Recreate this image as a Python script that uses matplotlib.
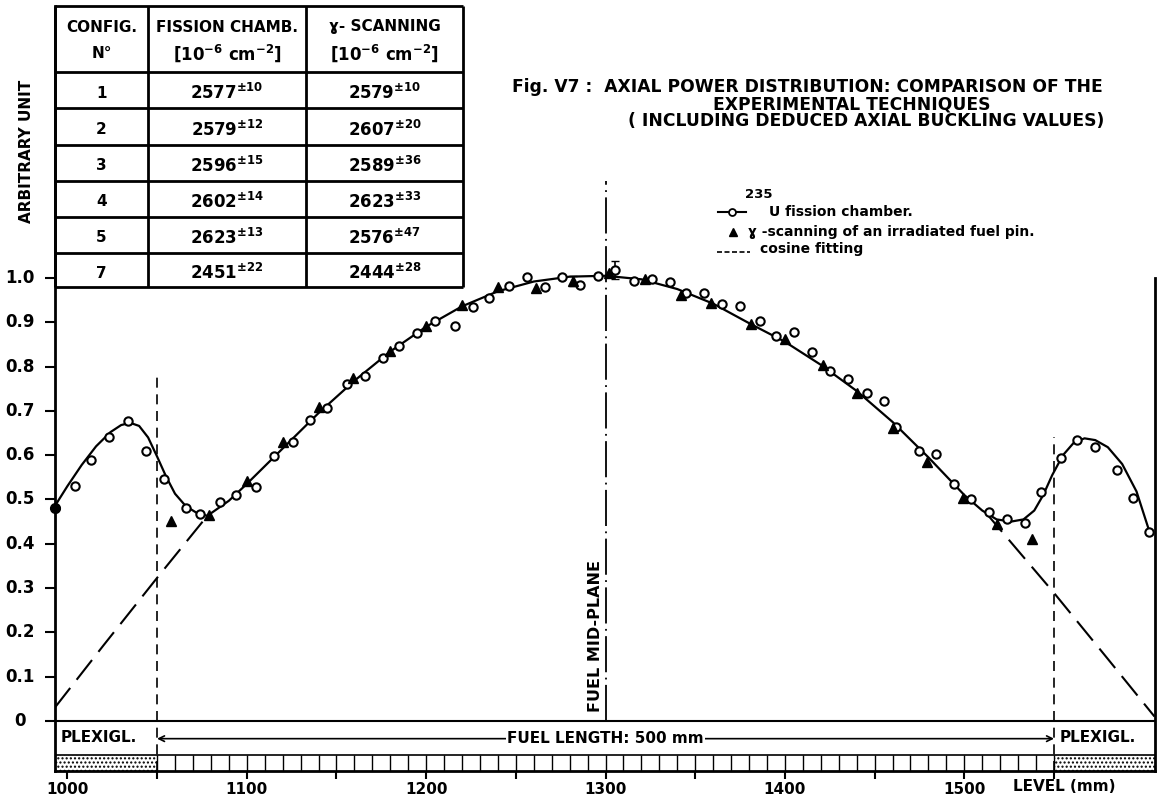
import numpy as np
import matplotlib.pyplot as plt
from matplotlib.patches import Rectangle
from matplotlib.transforms import offset_copy

plt.rcParams['font.family'] = ['DejaVu Sans']
plt.rcParams['font.weight'] = 'bold'
plt.rcParams['hatch.linewidth'] = 1.0

# 235U fission chamber readings (level mm, arbitrary unit)
fc_x = [993, 1004, 1013, 1023, 1034, 1044, 1054, 1066, 1074, 1085, 1094, 1105,
        1115, 1126, 1135, 1145, 1156, 1166, 1176, 1185, 1195, 1205, 1216, 1226,
        1235, 1246, 1256, 1266, 1276, 1286, 1296, 1305, 1316, 1326, 1336, 1345,
        1355, 1365, 1375, 1386, 1395, 1405, 1415, 1425, 1435, 1446, 1455, 1462,
        1475, 1484, 1494, 1504, 1514, 1524, 1534, 1543, 1554, 1563, 1573, 1585,
        1594, 1603]
fc_y = [0.481, 0.530, 0.589, 0.641, 0.677, 0.609, 0.546, 0.481, 0.467, 0.494, 0.510, 0.528,
        0.598, 0.630, 0.679, 0.706, 0.761, 0.779, 0.819, 0.846, 0.875, 0.902, 0.892, 0.935,
        0.955, 0.982, 1.002, 0.980, 1.002, 0.984, 1.005, 1.018, 0.993, 0.998, 0.991, 0.966,
        0.966, 0.941, 0.937, 0.903, 0.869, 0.878, 0.833, 0.790, 0.772, 0.740, 0.722, 0.664,
        0.609, 0.602, 0.535, 0.501, 0.472, 0.456, 0.447, 0.517, 0.593, 0.634, 0.619, 0.567,
        0.503, 0.427]

# gamma-scanning of an irradiated fuel pin
gs_x = [1058, 1079, 1100, 1120, 1140, 1159, 1180, 1200, 1220, 1240, 1261, 1282, 1302,
        1322, 1342, 1359, 1381, 1400, 1421, 1440, 1460, 1479, 1499, 1518, 1538]
gs_y = [0.451, 0.465, 0.541, 0.630, 0.709, 0.774, 0.835, 0.892, 0.939, 0.980, 0.977, 0.993, 1.011,
        0.998, 0.962, 0.943, 0.896, 0.862, 0.804, 0.740, 0.661, 0.585, 0.503, 0.445, 0.411]

# hand drawn fit through the points
fit_x = [993, 1000, 1008, 1016, 1024, 1030, 1035, 1040, 1045, 1050, 1055, 1060, 1066, 1072,
         1078, 1090, 1100, 1120, 1140, 1160, 1180, 1200, 1220, 1240, 1260, 1280, 1300, 1320,
         1340, 1360, 1380, 1400, 1420, 1440, 1460, 1480, 1500, 1510, 1518, 1526, 1533, 1539,
         1544, 1549, 1555, 1561, 1567, 1573, 1580, 1588, 1596, 1603]
fit_y = [0.485, 0.530, 0.578, 0.620, 0.652, 0.668, 0.673, 0.666, 0.640, 0.597, 0.552, 0.513,
         0.485, 0.470, 0.463, 0.497, 0.535, 0.615, 0.695, 0.768, 0.834, 0.890, 0.936, 0.970,
         0.992, 1.003, 1.005, 0.997, 0.975, 0.942, 0.898, 0.856, 0.804, 0.745, 0.675, 0.595,
         0.510, 0.475, 0.455, 0.450, 0.455, 0.475, 0.510, 0.555, 0.600, 0.628, 0.638, 0.634,
         0.618, 0.580, 0.518, 0.430]

# cosine fitting, parts outside the measured curve
cos_l_x = [993, 1020, 1050, 1078]
cos_l_y = [0.03, 0.17, 0.323, 0.463]
cos_r_x = [1512, 1550, 1580, 1606]
cos_r_y = [0.47, 0.289, 0.14, 0.01]

# table of deduced axial buckling
configs = ['1', '2', '3', '4', '5', '7']
fc_b = [2577, 2579, 2596, 2602, 2623, 2451]
fc_err = [10, 12, 15, 14, 13, 22]
gs_b = [2579, 2607, 2589, 2623, 2576, 2444]
gs_err = [10, 20, 36, 33, 47, 28]

yticks = [0, 0.1, 0.2, 0.3, 0.4, 0.5, 0.6, 0.7, 0.8, 0.9, 1.0]
xticks = [1000, 1100, 1200, 1300, 1400, 1500]

fig = plt.figure(figsize=(11.61, 7.98), dpi=100)
ax = fig.add_axes([55/1161, 27/798, 1100/1161, 765/798])
ax.set_xlim(993.1, 1606.3)
ax.set_ylim(-0.113, 1.614)

for s in ['left', 'bottom', 'right']:
    ax.spines[s].set_linewidth(2)
ax.spines['top'].set_visible(False)
ax.spines['right'].set_bounds(-0.113, 1.0)

ax.set_yticks(yticks)
ax.set_yticklabels([])
ax.tick_params(axis='y', length=7, width=1.5, direction='out')
for v in yticks:
    ax.text(-0.032, v, '0' if v == 0 else f'{v:.1f}', transform=ax.get_yaxis_transform(),
            ha='center', va='center', fontsize=12, fontweight='bold')

ax.set_xticks(xticks)
ax.set_xticklabels([str(t) for t in xticks], fontsize=11, fontweight='bold')
ax.set_xticks([1050, 1150, 1250, 1350, 1450, 1550], minor=True)
ax.tick_params(axis='x', which='both', length=6, width=1.5, pad=2)
lvl_tr = offset_copy(ax.get_xaxis_transform(), fig=fig, y=-8, units='dots')
ax.text(1527, 0, 'LEVEL (mm)', transform=lvl_tr, ha='left', va='top',
        fontsize=11, fontweight='bold')

# strip below the plot: plexiglass / fuel cells
ax.axhline(0, color='black', lw=1.5)
ax.axhline(-0.077, color='black', lw=1.2)
ax.vlines(np.arange(1050, 1551, 10), -0.113, -0.077, color='black', lw=1)
ax.add_patch(Rectangle((993.1, -0.113), 1050 - 993.1, 0.036, hatch='....', fill=False,
                       ec='black', lw=0))
ax.add_patch(Rectangle((1550, -0.113), 1606.3 - 1550, 0.036, hatch='....', fill=False,
                       ec='black', lw=0))
ax.text(996, -0.038, 'PLEXIGL.', ha='left', va='center', fontsize=11, fontweight='bold')
ax.text(1553, -0.038, 'PLEXIGL.', ha='left', va='center', fontsize=11, fontweight='bold')
ax.annotate('', xy=(1050, -0.04), xytext=(1550, -0.04),
            arrowprops=dict(arrowstyle='<->', lw=1.2, shrinkA=0, shrinkB=0, color='black'))
ax.text(1300, -0.04, 'FUEL LENGTH: 500 mm', ha='center', va='center', fontsize=11,
        fontweight='bold', bbox=dict(fc='white', ec='none', pad=1))

# fuel boundaries and mid-plane
ax.plot([1050, 1050], [-0.113, 0.78], color='black', lw=1.2, linestyle=(0, (6, 4)))
ax.plot([1550, 1550], [-0.113, 0.64], color='black', lw=1.2, linestyle=(0, (6, 4)))
ax.plot([1300, 1300], [0, 1.22], color='black', lw=1.3, linestyle=(0, (20, 3, 1, 3)))
ax.text(1298.5, 0.02, 'FUEL MID-PLANE', rotation=90, ha='right', va='bottom',
        fontsize=11.5, fontweight='bold')

# curves and points
ax.plot(fit_x, fit_y, color='black', lw=1.6)
ax.plot(cos_l_x, cos_l_y, color='black', lw=1.5, linestyle=(0, (12, 5)))
ax.plot(cos_r_x, cos_r_y, color='black', lw=1.5, linestyle=(0, (12, 5)))
ax.plot(fc_x, fc_y, 'o', ms=6, mfc='white', mec='black', mew=1.5, zorder=3)
ax.plot(fc_x[0], fc_y[0], 'o', ms=7, color='black', zorder=4, clip_on=False)
ax.plot(gs_x, gs_y, '^', ms=7, color='black', zorder=3)
ax.errorbar([fc_x[31]], [fc_y[31]], yerr=0.02, fmt='none', ecolor='black', capsize=3, lw=1.2)
ax.errorbar([gs_x[11]], [gs_y[11]], yerr=0.012, fmt='none', ecolor='black', capsize=3, lw=1.2)

# overlay in pixel units for table, title, legend
ov = fig.add_axes([0, 0, 1, 1], zorder=5)
ov.set_xlim(0, 1161)
ov.set_ylim(798, 0)
ov.axis('off')
ov.patch.set_alpha(0)

cols = [55, 148, 306, 463]
rows = [6, 72, 108, 145, 181, 217, 253, 287]
ov.hlines(rows, cols[0], cols[-1], color='black', lw=2)
ov.vlines(cols, rows[0], rows[-1], color='black', lw=2)
cx = [(cols[i] + cols[i + 1]) / 2 for i in range(3)]
ov.text(cx[0], 27, 'CONFIG.', ha='center', va='center', fontsize=11, fontweight='bold')
ov.text(cx[0], 53, 'N°', ha='center', va='center', fontsize=11, fontweight='bold')
ov.text(cx[1], 27, 'FISSION CHAMB.', ha='center', va='center', fontsize=11, fontweight='bold')
ov.text(cx[2], 27, 'ɣ- SCANNING', ha='center', va='center', fontsize=11, fontweight='bold')
for c in cx[1:]:
    ov.text(c, 53, r'$\mathbf{[10^{-6}\ cm^{-2}]}$', ha='center', va='center', fontsize=12)
for i in range(len(configs)):
    yc = (rows[i + 1] + rows[i + 2]) / 2 + 3
    ov.text(cx[0], yc, configs[i], ha='center', va='center', fontsize=11, fontweight='bold')
    ov.text(cx[1], yc, f'{fc_b[i]}' + r'$^{\mathbf{\pm ' + str(fc_err[i]) + '}}$',
            ha='center', va='center', fontsize=12, fontweight='bold')
    ov.text(cx[2], yc, f'{gs_b[i]}' + r'$^{\mathbf{\pm ' + str(gs_err[i]) + '}}$',
            ha='center', va='center', fontsize=12, fontweight='bold')

ov.text(27, 151, 'ARBITRARY UNIT', rotation=90, ha='center', va='center', fontsize=11,
        fontweight='bold')

# title
ov.text(512, 87, 'Fig. Ⅴ7 :  AXIAL POWER DISTRIBUTION: COMPARISON OF THE', ha='left',
        va='center', fontsize=12.3, fontweight='bold')
ov.text(852, 104, 'EXPERIMENTAL TECHNIQUES', ha='center', va='center', fontsize=12.3,
        fontweight='bold')
ov.text(866, 121, '( INCLUDING DEDUCED AXIAL BUCKLING VALUES)', ha='center', va='center',
        fontsize=12.3, fontweight='bold')

# legend
ov.plot([718, 746], [212, 212], color='black', lw=1.5)
ov.plot([732], [212], 'o', ms=5, mfc='white', mec='black', mew=1.3)
ov.text(745, 194, '235', ha='left', va='center', fontsize=9.5, fontweight='bold')
ov.text(769, 212, 'U fission chamber.', ha='left', va='center', fontsize=10, fontweight='bold')
ov.plot([733], [232], '^', ms=6, color='black')
ov.text(748, 232, 'ɣ -scanning of an irradiated fuel pin.', ha='left', va='center',
        fontsize=10, fontweight='bold')
ov.plot([717, 750], [252, 252], color='black', lw=1.2, linestyle=(0, (3, 1.5)))
ov.text(760, 249, 'cosine fitting', ha='left', va='center', fontsize=10, fontweight='bold')

fig.savefig('out.png', dpi=100)
